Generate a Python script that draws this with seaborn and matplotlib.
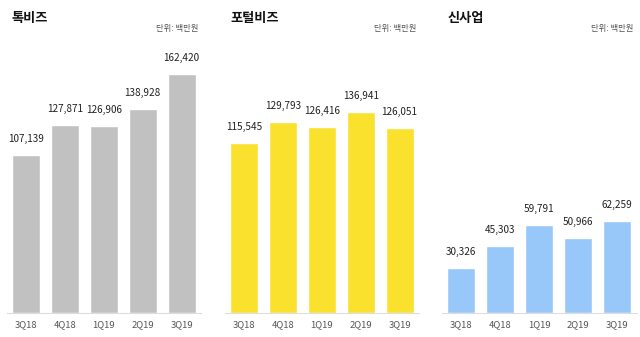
import matplotlib
matplotlib.use("Agg")
import matplotlib.pyplot as plt
import seaborn as sns
import pandas as pd
import numpy as np

quarters = ["3Q18", "4Q18", "1Q19", "2Q19", "3Q19"]
talkbiz = [107139, 127871, 126906, 138928, 162420]
portalbiz = [115545, 129793, 126416, 136941, 126051]
newbiz = [30326, 45303, 59791, 50966, 62259]
titles = ["톡비즈", "포털비즈", "신사업"]
unit_label = "단위: 백만원"
colors = ["#c1c1c1", "#fae12e", "#98c8fa"]

sns.set_theme(style="white")
plt.rcParams['font.family'] = ['Noto Sans CJK KR', 'DejaVu Sans']

fig = plt.figure(figsize=(6.4, 3.37), dpi=100)
W, H = 640, 337
lefts = [6.5, 224.5, 442]
aw = 194.5
base_y = 313
top_y = 41
series = [talkbiz, portalbiz, newbiz]

for i, (vals, title, col) in enumerate(zip(series, titles, colors)):
    ax = fig.add_axes([lefts[i] / W, (H - base_y) / H, aw / W, (base_y - top_y) / H])
    df = pd.DataFrame({"q": quarters, "v": vals})
    sns.barplot(data=df, x="q", y="v", color=col, width=0.72, ax=ax, saturation=1)
    ax.set_ylim(0, 185000)
    ax.set_xlim(-0.5, 4.5)
    ax.bar_label(ax.containers[0], labels=[f"{v:,}" for v in vals], padding=8,
                 fontsize=7.2, color="#222222")
    for s in ["top", "right", "left"]:
        ax.spines[s].set_visible(False)
    ax.spines["bottom"].set_color("#dddddd")
    ax.spines["bottom"].set_linewidth(0.8)
    ax.set_yticks([])
    ax.set_xlabel("")
    ax.set_ylabel("")
    ax.tick_params(axis="x", which="major", length=0, labelsize=6.8, labelcolor="#555555", pad=5)
    ax.set_xticks(np.arange(-0.5, 5.0, 1.0), minor=True)
    ax.tick_params(axis="x", which="minor", length=3, color="#dddddd", width=0.8, direction="out")
    fig.text((lefts[i] + 5.5) / W, 1 - 18 / H, title, fontsize=9.5, fontweight="bold",
             color="#111111", va="center", ha="left")
    fig.text((lefts[i] + aw - 3) / W, 1 - 29 / H, unit_label, fontsize=6, color="#555555",
             va="center", ha="right")

fig.savefig("out.png", dpi=100)
